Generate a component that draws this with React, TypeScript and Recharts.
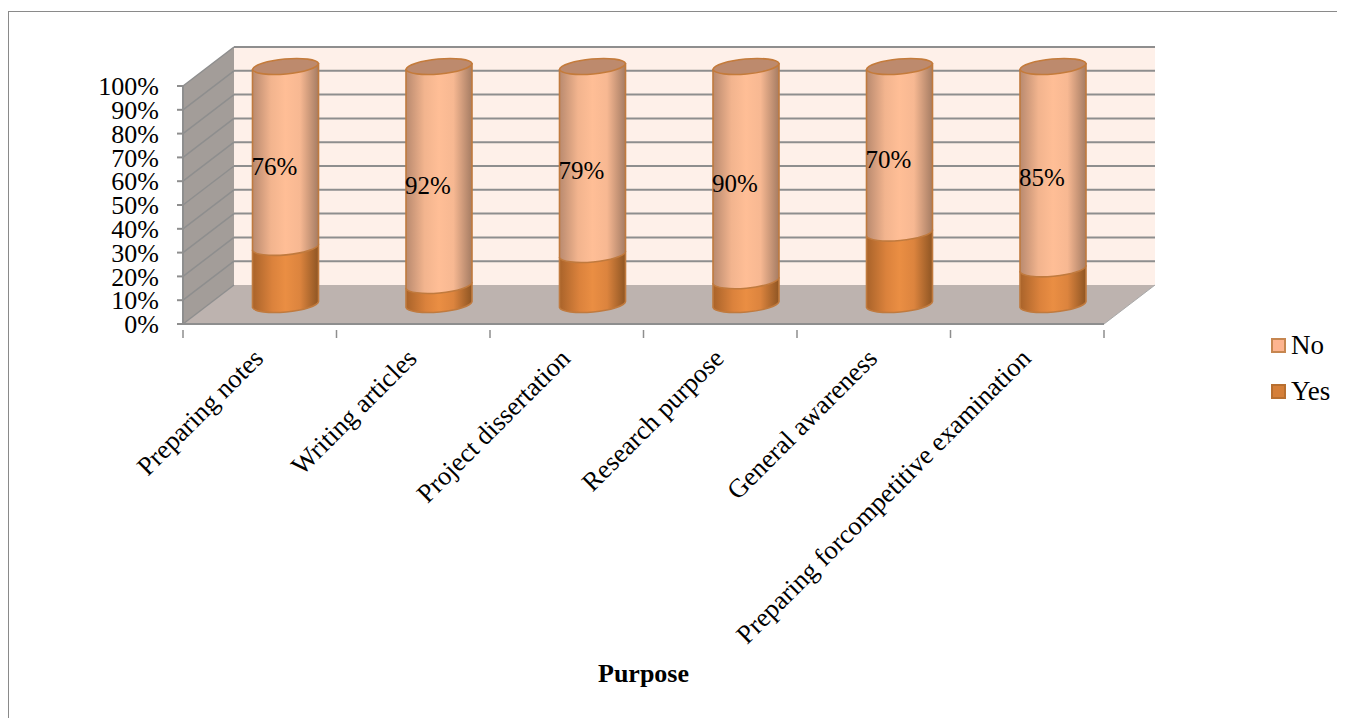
import React from 'react';
import { BarChart, Bar, XAxis, YAxis, CartesianGrid, ReferenceArea, LabelList, Legend } from 'recharts';

const purposes = [
  'Preparing notes',
  'Writing articles',
  'Project dissertation',
  'Research purpose',
  'General awareness',
  'Preparing forcompetitive examination',
];
const yesValues = [24, 8, 21, 10, 30, 15];
const noValues = [76, 92, 79, 90, 70, 85];
const percentTicks = [0, 10, 20, 30, 40, 50, 60, 70, 80, 90, 100];

const data = purposes.map((purpose, i) => ({ purpose, Yes: yesValues[i], No: noValues[i] }));

const FONT = '"Liberation Serif", "Times New Roman", serif';
const GRID = '#8e8e8e';
// how far the back wall sits behind the front plane
const DEPTH_X = 51;
const DEPTH_Y = -39;
// cylinders stand halfway back on the floor
const BAR_DX = DEPTH_X / 2;
const BAR_DY = DEPTH_Y / 2;
// end caps are tilted ellipses: one side 3px lower than the other
const TILT = 3;
const CAP_RY = 8;

function Walls({ x, y, width, height }: any) {
  const bottom = y + height;
  const right = x + width;
  return (
    <g>
      <polygon
        points={`${x + DEPTH_X},${y + DEPTH_Y} ${right + DEPTH_X},${y + DEPTH_Y} ${right + DEPTH_X},${bottom + DEPTH_Y} ${x + DEPTH_X},${bottom + DEPTH_Y}`}
        fill="#fef0e9"
      />
      <polygon
        points={`${x},${bottom} ${x},${y} ${x + DEPTH_X},${y + DEPTH_Y} ${x + DEPTH_X},${bottom + DEPTH_Y}`}
        fill="#a39d99"
      />
      <polygon
        points={`${x},${bottom} ${right},${bottom} ${right + DEPTH_X},${bottom + DEPTH_Y} ${x + DEPTH_X},${bottom + DEPTH_Y}`}
        fill="#bdb3af"
      />
    </g>
  );
}

// grid line: diagonal across the side wall, then along the back wall
function GridLine({ x1, x2, y1 }: any) {
  const backY = y1 + DEPTH_Y;
  const isFloor = Math.abs(y1 - 316) < 1;
  return (
    <g key={`grid-${y1}`}>
      <line x1={x1} y1={y1} x2={x1 + DEPTH_X} y2={backY} stroke={GRID} strokeWidth={1.5} />
      {!isFloor && <line x1={x1 + DEPTH_X} y1={backY} x2={x2 + DEPTH_X} y2={backY} stroke={GRID} strokeWidth={2} />}
      {isFloor && <line x1={x2} y1={y1} x2={x2 + DEPTH_X} y2={backY} stroke="#a9a9a9" strokeWidth={1} />}
    </g>
  );
}

function capArc(x: number, cy: number, w: number, sweep: number) {
  const rx = w / 2 + 0.2;
  const rot = (-Math.atan2(TILT, w / 2) * 180) / Math.PI;
  return `A ${rx} ${CAP_RY} ${rot} 0 ${sweep} ${x},${cy + TILT}`;
}

// one stacked segment of a cylinder, shifted back onto the floor
function Cylinder({ x, y, width, height, gradient, withCap }: any) {
  const left = x + BAR_DX;
  const right = left + width;
  const top = y + BAR_DY;
  const bottom = y + height + BAR_DY;
  const body =
    `M ${left},${top + TILT} L ${right},${top - TILT} L ${right},${bottom - TILT} ` +
    `A ${width / 2 + 0.2} ${CAP_RY} ${(-Math.atan2(TILT, width / 2) * 180) / Math.PI} 0 1 ${left},${bottom + TILT} Z`;
  const cap =
    `M ${left},${top + TILT} A ${width / 2 + 0.2} ${CAP_RY} ${(-Math.atan2(TILT, width / 2) * 180) / Math.PI} 0 1 ${right},${top - TILT} ` +
    `${capArc(left, top, width, 1)} Z`;
  return (
    <g>
      <path d={body} fill={`url(#${gradient})`} stroke="#c07a3e" strokeWidth={1.6} strokeLinejoin="round" />
      {withCap && <path d={cap} fill="#bd8a6d" stroke="#c47b3b" strokeWidth={1.6} />}
    </g>
  );
}

function ValueLabel({ x, y, width, height, value }: any) {
  return (
    <text
      x={x + width / 2 + 14.5}
      y={y + height / 2 - 10}
      textAnchor="middle"
      dominantBaseline="central"
      fontFamily={FONT}
      fontSize={25}
      fill="#000"
    >
      {`${value}%`}
    </text>
  );
}

function PurposeTick({ x, y, payload, index }: any) {
  const band = 921 / purposes.length;
  const isLast = index === purposes.length - 1;
  return (
    <g>
      <line x1={x - band / 2} y1={y} x2={x - band / 2} y2={y + 8} stroke={GRID} strokeWidth={1.5} />
      {isLast && <line x1={x + band / 2} y1={y} x2={x + band / 2} y2={y + 8} stroke={GRID} strokeWidth={1.5} />}
      <text
        x={x + 5}
        y={y + 30}
        transform={`rotate(-45 ${x + 5} ${y + 30})`}
        textAnchor="end"
        fontFamily={FONT}
        fontSize={26.5}
        fill="#000"
      >
        {payload.value}
      </text>
    </g>
  );
}

function LegendBox({ payload }: any) {
  return (
    <div style={{ fontFamily: FONT, fontSize: 27, color: '#000' }}>
      {(payload || []).map((row: any) => (
        <div key={row.value} style={{ display: 'flex', alignItems: 'center', height: 46 }}>
          <span
            style={{
              display: 'inline-block',
              boxSizing: 'border-box',
              width: 15,
              height: 15,
              marginRight: 5,
              background: row.value === 'No' ? '#fdb48f' : '#d57f39',
              border: `2px solid ${row.value === 'No' ? '#c68650' : '#b86f30'}`,
            }}
          />
          {row.value}
        </div>
      ))}
    </div>
  );
}

export default function App() {
  return (
    <div style={{ position: 'relative', width: 1337, height: 710 }}>
      <div
        style={{
          position: 'absolute',
          left: 0,
          top: 3,
          width: 1337,
          height: 707,
          boxSizing: 'border-box',
          borderTop: '1px solid #8a8a8a',
          borderLeft: '1px solid #8a8a8a',
        }}
      />
      <BarChart
        width={1337}
        height={710}
        data={data}
        margin={{ top: 78, right: 167, bottom: 0, left: 0 }}
        barSize={66}
        style={{ position: 'absolute', left: 0, top: 0 }}
      >
        <defs>
          <linearGradient id="noFill" x1="0" y1="0" x2="1" y2="0">
            <stop offset="0%" stopColor="#b98a6f" />
            <stop offset="28%" stopColor="#f2b48e" />
            <stop offset="50%" stopColor="#ffbe96" />
            <stop offset="72%" stopColor="#f7b892" />
            <stop offset="100%" stopColor="#a57c63" />
          </linearGradient>
          <linearGradient id="yesFill" x1="0" y1="0" x2="1" y2="0">
            <stop offset="0%" stopColor="#a9632a" />
            <stop offset="30%" stopColor="#db823c" />
            <stop offset="50%" stopColor="#ea8e43" />
            <stop offset="72%" stopColor="#dc843e" />
            <stop offset="100%" stopColor="#8e5523" />
          </linearGradient>
        </defs>
        <ReferenceArea y1={0} y2={100} shape={Walls} zIndex={-150} />
        <CartesianGrid vertical={false} horizontal={GridLine as any} zIndex={-100} />
        <XAxis
          dataKey="purpose"
          height={394}
          interval={0}
          stroke={GRID}
          tickLine={false}
          axisLine={{ stroke: GRID, strokeWidth: 2 }}
          tick={PurposeTick as any}
          tickMargin={0}
          label={{
            value: 'Purpose',
            position: 'insideBottom',
            offset: 36,
            fontFamily: FONT,
            fontSize: 26,
            fontWeight: 'bold',
            fill: '#000',
          }}
        />
        <YAxis
          width={175}
          type="number"
          domain={[0, 100]}
          ticks={percentTicks}
          interval={0}
          tickFormatter={(v: number) => `${v}%`}
          tick={{ fontFamily: FONT, fontSize: 26, fill: '#000' }}
          tickSize={6}
          tickMargin={18}
          stroke={GRID}
          axisLine={{ stroke: GRID, strokeWidth: 2 }}
          tickLine={{ stroke: GRID, strokeWidth: 2 }}
        />
        <Legend
          layout="vertical"
          align="right"
          verticalAlign="top"
          wrapperStyle={{ position: 'absolute', left: 1263, top: 314, width: 74 }}
          content={LegendBox as any}
        />
        <Bar
          dataKey="Yes"
          stackId="a"
          isAnimationActive={false}
          fill="#d57f39"
          shape={(props: any) => <Cylinder {...props} gradient="yesFill" />}
        />
        <Bar
          dataKey="No"
          stackId="a"
          isAnimationActive={false}
          fill="#fdb48f"
          shape={(props: any) => <Cylinder {...props} gradient="noFill" withCap />}
        >
          <LabelList dataKey="No" content={ValueLabel as any} />
        </Bar>
      </BarChart>
    </div>
  );
}
